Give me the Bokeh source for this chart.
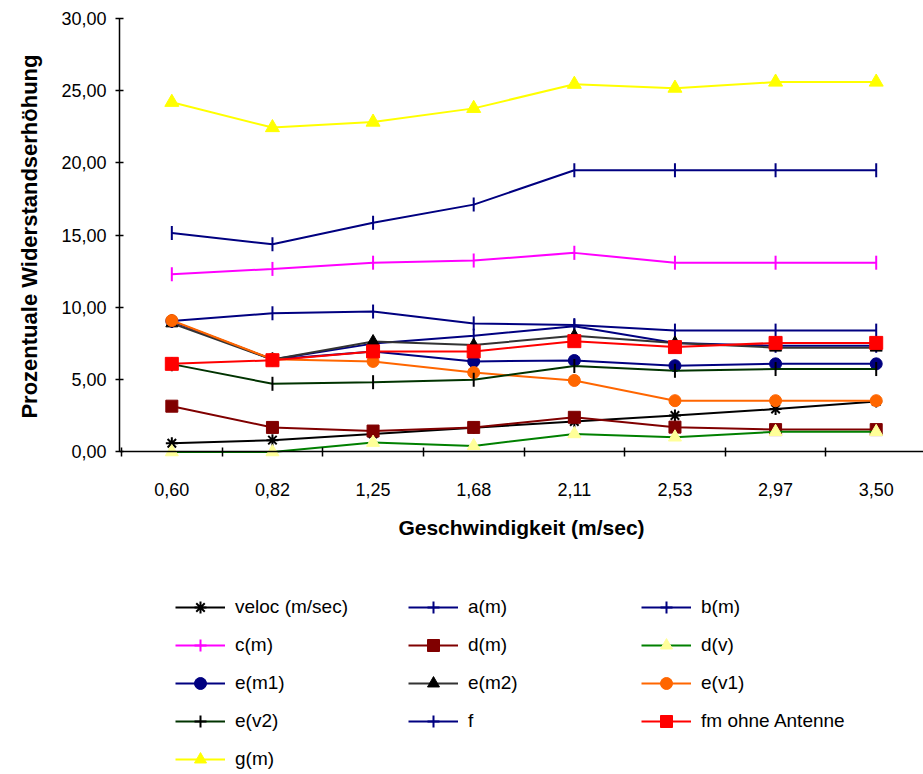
import numpy as np
from bokeh.plotting import figure
from bokeh.models import Range1d, FixedTicker, Legend, LegendItem, Title
from bokeh.embed import file_html
from bokeh.resources import INLINE

# Geschwindigkeiten (Kategorien der x-Achse)
speed_labels = ["0,60", "0,82", "1,25", "1,68", "2,11", "2,53", "2,97", "3,50"]

# Prozentuale Widerstandserhöhung je Variante
veloc = [0.60, 0.82, 1.25, 1.68, 2.11, 2.53, 2.97, 3.50]
a_m = [9.06, 9.60, 9.72, 8.90, 8.78, 8.40, 8.40, 8.40]
b_m = [9.06, 6.40, 7.50, 8.05, 8.70, 7.55, 7.35, 7.35]
c_m = [12.30, 12.67, 13.10, 13.25, 13.78, 13.10, 13.10, 13.10]
d_m = [3.17, 1.70, 1.45, 1.70, 2.40, 1.72, 1.55, 1.55]
d_v = [0.00, 0.00, 0.65, 0.42, 1.25, 1.02, 1.40, 1.40]
e_m1 = [9.06, 6.40, 6.95, 6.27, 6.33, 5.97, 6.10, 6.10]
e_m2 = [8.90, 6.40, 7.65, 7.40, 8.05, 7.55, 7.22, 7.22]
e_v1 = [9.10, 6.42, 6.27, 5.50, 4.95, 3.55, 3.55, 3.55]
e_v2 = [6.08, 4.72, 4.83, 5.00, 5.95, 5.62, 5.74, 5.74]
f = [15.15, 14.37, 15.87, 17.12, 19.50, 19.50, 19.50, 19.50]
fm_ohne = [6.10, 6.35, 6.96, 6.96, 7.67, 7.26, 7.55, 7.55]
g_m = [24.20, 22.45, 22.83, 23.78, 25.45, 25.18, 25.60, 25.60]

y_ticks = [0, 5, 10, 15, 20, 25, 30]

FONT = "Liberation Sans"
xs = list(range(len(speed_labels)))

# The frame reaches down to the bottom of the page so that the legend
# (drawn inside the frame) stays visible; the x axis sits at y = 0.
p = figure(
    width=923, height=774,
    output_backend="svg", toolbar_location=None,
    x_range=Range1d(-0.52, 7.47), y_range=Range1d(-22.32, 30),
    min_border_left=119, min_border_right=0,
    min_border_top=18, min_border_bottom=0,
)
p.outline_line_color = None
p.xgrid.visible = False
p.ygrid.visible = False
p.background_fill_color = "white"
p.border_fill_color = "white"

# (name, values, line colour, marker, marker fill, marker line, size)
# "tick" = short vertical stroke on the line (legend shows it as a cross)
series = [
    ("veloc (m/sec)", veloc, "#000000", "asterisk", "#000000", "#000000", 12),
    ("a(m)", a_m, "#000080", "tick", "#000080", "#000080", 14),
    ("b(m)", b_m, "#000080", "tick", "#000080", "#000080", 14),
    ("c(m)", c_m, "#FF00FF", "tick", "#FF00FF", "#FF00FF", 14),
    ("d(m)", d_m, "#800000", "square", "#800000", "#800000", 12),
    ("d(v)", d_v, "#008000", "triangle", "#FFFF99", "#FFFF99", 13),
    ("e(m1)", e_m1, "#000080", "circle", "#000080", "#000080", 12),
    ("e(m2)", e_m2, "#333333", "triangle", "#000000", "#000000", 12),
    ("e(v1)", e_v1, "#FF6600", "circle", "#FF6600", "#FF6600", 12),
    ("e(v2)", e_v2, "#003300", "tick", "#000000", "#000000", 14),
    ("f", f, "#000080", "tick", "#000080", "#000080", 14),
    ("fm ohne Antenne", fm_ohne, "#FF0000", "square", "#FF0000", "#FF0000", 13),
    ("g(m)", g_m, "#FFFF00", "triangle", "#FFFF00", "#FFFF00", 14),
]

items = []
for name, vals, lc, mk, mfill, mline, size in series:
    ln = p.line(xs, vals, line_color=lc, line_width=2)
    if mk == "tick":
        sc = p.scatter(xs, vals, marker="dash", size=size, angle=np.pi / 2,
                       line_color=mline, line_width=2)
        # legend symbol only: a small cross on the line
        key = p.scatter(xs, vals, marker="cross", size=size,
                        line_color=mline, line_width=2, visible=False)
        items.append(LegendItem(label=name, renderers=[ln, key]))
    else:
        mw = 2 if mk == "asterisk" else 1
        sc = p.scatter(xs, vals, marker=mk, size=size,
                       fill_color=mfill, line_color=mline, line_width=mw)
        items.append(LegendItem(label=name, renderers=[ln, sc]))

# y-Achse (nur von 0 bis 30)
yax = p.yaxis[0]
yax.bounds = (0, 30)
yax.ticker = FixedTicker(ticks=y_ticks)
yax.major_label_overrides = {t: f"{t:.2f}".replace(".", ",") for t in y_ticks}
yax.major_tick_in = 4
yax.major_tick_out = 4
yax.minor_tick_in = 0
yax.minor_tick_out = 0
yax.major_label_standoff = 9
yax.axis_line_width = 1.5
yax.axis_line_color = "black"
yax.major_tick_line_color = "black"
yax.major_tick_line_width = 1.5
yax.major_label_text_font = FONT
yax.major_label_text_font_size = "18px"
yax.major_label_text_color = "black"

# y-Achsentitel, neben dem Bereich 0 bis 30
p.add_layout(Title(
    text="Prozentuale Widerstandserhöhung", align="right", offset=36,
    vertical_align="top", standoff=30,
    text_font=FONT, text_font_style="bold",
    text_font_size="22px", text_color="black",
), "left")

# x-Achse bei y = 0: Beschriftung in Kategoriemitte, Striche zwischen den Kategorien
xax = p.xaxis[0]
xax.fixed_location = 0
xax.ticker = FixedTicker(ticks=xs, minor_ticks=[i - 0.5 for i in range(len(xs) + 1)])
xax.major_label_overrides = {i: s for i, s in enumerate(speed_labels)}
xax.major_tick_in = 0
xax.major_tick_out = 0
xax.minor_tick_in = 4
xax.minor_tick_out = 5
xax.minor_tick_line_color = "black"
xax.minor_tick_line_width = 1.5
xax.axis_line_width = 1.5
xax.axis_line_color = "black"
xax.major_label_standoff = 26
xax.major_label_text_font = FONT
xax.major_label_text_font_size = "18px"
xax.major_label_text_color = "black"
xax.axis_label = "Geschwindigkeit (m/sec)"
xax.axis_label_text_font = FONT
xax.axis_label_text_font_style = "bold"
xax.axis_label_text_font_size = "21px"
xax.axis_label_text_color = "black"
xax.axis_label_standoff = 17

legend = Legend(
    items=items, orientation="horizontal", ncols=3,
    location=(56, 0),
    glyph_width=50, glyph_height=30, label_height=30, label_width=165,
    label_standoff=10, spacing=8, padding=0, margin=0,
    border_line_color=None, background_fill_alpha=0,
    label_text_font=FONT, label_text_font_size="19px", label_text_color="black",
)
p.add_layout(legend)

open("out.html", "w").write(file_html(p, INLINE))
